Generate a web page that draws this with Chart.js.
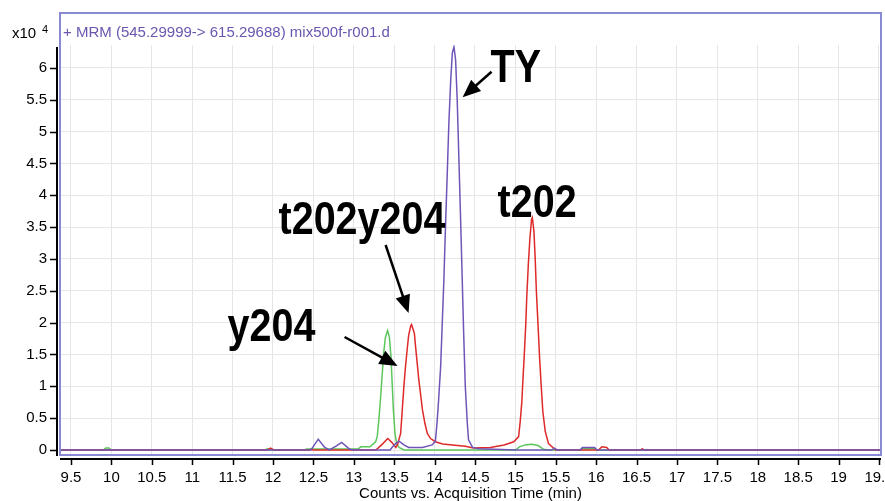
<!DOCTYPE html>
<html>
<head>
<meta charset="utf-8">
<script src="https://cdn.jsdelivr.net/npm/chart.js@4"></script>
<style>
html,body{margin:0;padding:0;background:#fff;}
#wrap{width:885px;height:501px;position:relative;}
</style>
</head>
<body>
<div id="wrap"><canvas id="c" width="885" height="501"></canvas></div>
<script>
// ---------- DATA (counts in units of 10^4) ----------
const tyTime = [9.36,12.45,12.47,12.56,12.64,12.70,12.78,12.85,12.95,13.00,13.45,13.48,13.52,13.56,13.62,13.68,13.85,13.97,14.01,14.03,14.05,14.075,14.095,14.115,14.135,14.157,14.177,14.20,14.22,14.24,14.26,14.28,14.30,14.32,14.34,14.36,14.38,14.405,14.42,14.47,14.55,15.00,15.45,15.48,15.52,15.80,15.83,15.98,16.01,19.53];
const tyCounts = [0,0,0,0.17,0.04,0,0.06,0.12,0.01,0,0,0.05,0.10,0.14,0.08,0.04,0.04,0.08,0.14,0.42,0.79,1.31,1.99,2.67,3.51,4.35,5.14,5.82,6.24,6.33,6.13,5.50,4.61,3.72,2.78,1.83,1.00,0.42,0.16,0.04,0.02,0,0,0.03,0,0,0.04,0.04,0,0];

const y204Time = [9.36,9.90,9.93,9.97,10.00,11.90,11.93,11.96,12.38,12.42,12.60,13.05,13.09,13.20,13.27,13.29,13.31,13.33,13.35,13.37,13.39,13.418,13.44,13.46,13.475,13.49,13.51,13.53,13.56,13.62,15.00,15.05,15.12,15.20,15.28,15.35,15.40,15.80,15.83,15.98,16.00,19.53];
const y204Counts = [0,0,0.03,0.03,0,0,0.02,0,0,0.015,0.015,0.015,0.05,0.05,0.13,0.21,0.47,0.79,1.15,1.52,1.76,1.875,1.78,1.47,1.05,0.63,0.26,0.10,0.04,0,0,0.05,0.08,0.09,0.07,0.01,0,0,0.02,0.02,0,0];

const t202Time = [9.36,11.93,11.97,12.01,12.45,12.47,12.50,13.27,13.30,13.36,13.42,13.47,13.52,13.54,13.58,13.60,13.62,13.64,13.66,13.68,13.705,13.715,13.75,13.765,13.785,13.805,13.83,13.85,13.88,13.91,13.95,14.01,14.10,14.22,14.38,14.48,14.69,14.86,14.98,15.04,15.06,15.08,15.09,15.11,15.13,15.14,15.16,15.18,15.20,15.21,15.23,15.245,15.26,15.28,15.30,15.32,15.34,15.37,15.41,15.48,15.50,16.03,16.07,16.13,16.16,16.55,16.57,16.59,19.53];
const t202Counts = [0,0,0.03,0,0,0.01,0,0,0.03,0.10,0.18,0.12,0.04,0.08,0.26,0.63,1.00,1.31,1.57,1.81,1.95,1.97,1.83,1.62,1.36,1.10,0.84,0.63,0.42,0.26,0.18,0.13,0.095,0.08,0.06,0.03,0.04,0.08,0.13,0.21,0.45,0.76,1.02,1.49,2.02,2.38,2.91,3.33,3.62,3.65,3.43,3.01,2.49,1.97,1.44,1.00,0.60,0.29,0.10,0.02,0,0,0.05,0.04,0,0,0.02,0,0];

const xTickValues = [9.5,10,10.5,11,11.5,12,12.5,13,13.5,14,14.5,15,15.5,16,16.5,17,17.5,18,18.5,19,19.5];
const yTickValues = [0,0.5,1,1.5,2,2.5,3,3.5,4,4.5,5,5.5,6];

const chartTitle = '+ MRM (545.29999-> 615.29688) mix500f-r001.d';
const xAxisTitle = 'Counts vs. Acquisition Time (min)';

// annotations: text, text anchor (time, counts), arrow tail and tip (time, counts)
const annText  = ['TY','t202','t202y204','y204'];
const annX     = [14.693,14.780,12.069,11.438];
const annY     = [5.78,3.66,3.39,1.71];
const arrTailX = [14.705,null,13.394,12.886];
const arrTailY = [5.94,null,3.22,1.775];
const arrTipX  = [14.347,null,13.678,13.542];
const arrTipY  = [5.54,null,2.15,1.32];

// ---------- CHART ----------
const FONT = '"Liberation Sans", Arial, sans-serif';
const toPts = (t, v) => t.map((x, i) => ({x: x, y: v[i]}));

function drawArrow(ctx, x1, y1, x2, y2) {
  const ang = Math.atan2(y2 - y1, x2 - x1);
  const L = 18, W = 7.5;
  const c = Math.cos(ang), s = Math.sin(ang);
  ctx.beginPath();
  ctx.moveTo(x1, y1);
  ctx.lineTo(x2 - L * 0.8 * c, y2 - L * 0.8 * s);
  ctx.lineWidth = 2.5;
  ctx.stroke();
  ctx.beginPath();
  ctx.moveTo(x2, y2);
  ctx.lineTo(x2 - L * c + W * s, y2 - L * s - W * c);
  ctx.lineTo(x2 - L * c - W * s, y2 - L * s + W * c);
  ctx.closePath();
  ctx.fill();
}

const decor = {
  id: 'decor',
  beforeDraw(chart) {
    const ctx = chart.ctx;
    ctx.save();
    ctx.fillStyle = '#fff';
    ctx.fillRect(0, 0, chart.width, chart.height);
    ctx.restore();
  },
  afterDraw(chart) {
    const {ctx, chartArea: a, scales} = chart;
    const xs = scales.x, ys = scales.y;
    ctx.save();
    // frame
    ctx.strokeStyle = '#8a8ad2';
    ctx.lineWidth = 2;
    ctx.strokeRect(a.left, 13, a.right - a.left, a.bottom - 13);
    // title inside frame
    ctx.fillStyle = '#6a56ae';
    ctx.font = '15px ' + FONT;
    ctx.textBaseline = 'alphabetic';
    ctx.textAlign = 'left';
    ctx.fillText(chartTitle, a.left + 3, 37);
    // exponent
    ctx.fillStyle = '#000';
    ctx.fillText('x10', 12, 38);
    ctx.font = '11px ' + FONT;
    ctx.fillText('4', 42, 33);
    // axis lines
    ctx.strokeStyle = '#000';
    ctx.lineWidth = 2;
    ctx.beginPath();
    ctx.moveTo(a.left - 3, 47);
    ctx.lineTo(a.left - 3, a.bottom + 1);
    ctx.moveTo(a.left, a.bottom + 4);
    ctx.lineTo(a.right, a.bottom + 4);
    ctx.stroke();
    // tick marks
    ctx.lineWidth = 1.5;
    ctx.beginPath();
    xs.ticks.forEach(t => {
      const px = Math.round(xs.getPixelForValue(t.value)) + 0.5;
      ctx.moveTo(px, a.bottom + 4);
      ctx.lineTo(px, a.bottom + 10);
    });
    ys.ticks.forEach(t => {
      const py = Math.round(ys.getPixelForValue(t.value)) + 0.5;
      ctx.moveTo(a.left - 3, py);
      ctx.lineTo(a.left - 10, py);
    });
    ctx.stroke();
    // x axis title
    ctx.font = '15px ' + FONT;
    ctx.textAlign = 'center';
    ctx.fillText(xAxisTitle, (a.left + a.right) / 2, 498);
    ctx.textAlign = 'left';
    // annotations
    ctx.fillStyle = '#000';
    ctx.strokeStyle = '#000';
    ctx.lineCap = 'butt';
    for (let i = 0; i < annText.length; i++) {
      const px = xs.getPixelForValue(annX[i]);
      const py = ys.getPixelForValue(annY[i]);
      ctx.save();
      ctx.translate(px, py);
      ctx.scale(0.84, 1);
      ctx.font = 'bold 47px ' + FONT;
      ctx.fillText(annText[i], 0, 0);
      ctx.restore();
      if (arrTailX[i] !== null) {
        drawArrow(ctx,
          xs.getPixelForValue(arrTailX[i]), ys.getPixelForValue(arrTailY[i]),
          xs.getPixelForValue(arrTipX[i]), ys.getPixelForValue(arrTipY[i]));
      }
    }
    ctx.restore();
  }
};

new Chart(document.getElementById('c'), {
  type: 'line',
  data: {
    datasets: [
      {label: 'TY', data: toPts(tyTime, tyCounts), borderColor: '#6f55b8', order: 0},
      {label: 't202', data: toPts(t202Time, t202Counts), borderColor: '#de2a2a', order: 1},
      {label: 'y204', data: toPts(y204Time, y204Counts), borderColor: '#5cc65c', order: 2}
    ]
  },
  options: {
    responsive: false,
    animation: false,
    devicePixelRatio: 1,
    layout: {padding: {top: 45, right: 4, left: 0, bottom: 0}},
    elements: {
      point: {radius: 0},
      line: {borderWidth: 1.5, tension: 0, fill: false}
    },
    plugins: {legend: {display: false}, tooltip: {enabled: false}, title: {display: false}},
    scales: {
      x: {
        type: 'linear',
        min: 9.364,
        max: 19.525,
        afterBuildTicks: s => { s.ticks = xTickValues.map(v => ({value: v})); },
        afterFit: s => { s.height = 46; s.paddingLeft = 0; s.paddingRight = 0; },
        ticks: {
          autoSkip: false, maxRotation: 0, minRotation: 0, padding: 4,
          color: '#000', font: {family: FONT, size: 15},
          callback: v => String(v)
        },
        grid: {color: '#e6e6e6', lineWidth: 1, tickLength: 10, tickColor: 'rgba(0,0,0,0)', drawTicks: true},
        border: {display: false},
        title: {display: false}
      },
      y: {
        type: 'linear',
        min: -0.0785,
        max: 6.361,
        afterBuildTicks: s => { s.ticks = yTickValues.map(v => ({value: v})); },
        afterFit: s => { s.width = 60; s.paddingTop = 0; s.paddingBottom = 0; },
        ticks: {
          autoSkip: false, padding: 3,
          color: '#000', font: {family: FONT, size: 15},
          callback: v => String(v)
        },
        grid: {color: '#e6e6e6', lineWidth: 1, tickLength: 10, tickColor: 'rgba(0,0,0,0)', drawTicks: true},
        border: {display: false}
      }
    }
  },
  plugins: [decor]
});
</script>
</body>
</html>
